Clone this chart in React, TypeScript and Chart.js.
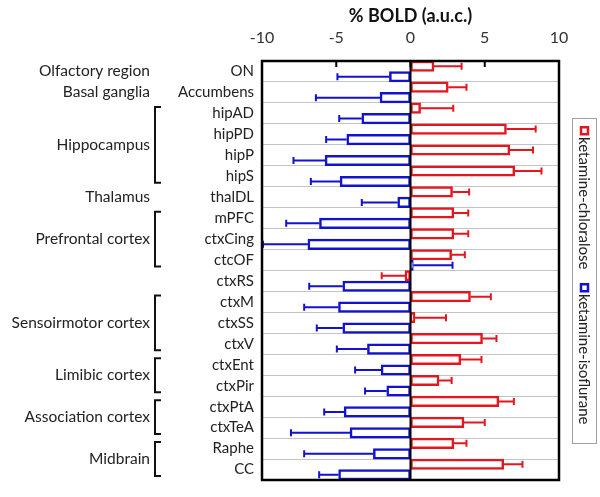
import React, { useEffect, useRef } from "react";
import { Chart, registerables } from "chart.js";

Chart.register(...registerables);

const categories = ["ON", "Accumbens", "hipAD", "hipPD", "hipP", "hipS", "thalDL", "mPFC", "ctxCing", "ctcOF", "ctxRS", "ctxM", "ctxSS", "ctxV", "ctxEnt", "ctxPir", "ctxPtA", "ctxTeA", "Raphe", "CC"];
const chloralose = [1.58, 2.54, 0.68, 6.46, 6.69, 7.02, 2.83, 2.92, 2.92, 2.77, -0.37, 4.04, 0.3, 4.85, 3.39, 1.92, 5.95, 3.6, 2.92, 6.28];
const chloraloseErr = [1.86, 1.23, 2.2, 1.97, 1.56, 1.8, 1.12, 0.97, 0.97, 0.89, 1.57, 1.37, 2.09, 0.94, 1.39, 0.85, 1.01, 1.4, 0.85, 1.26];
const isoflurane = [-1.42, -2.05, -3.28, -4.29, -5.75, -4.74, -0.86, -6.13, -6.91, 0.19, -4.56, -4.85, -4.56, -2.9, -1.98, -1.6, -4.47, -4.07, -2.5, -4.84];
const isofluraneErr = [3.5, 4.32, 1.52, 1.39, 2.13, 1.97, 2.42, 2.24, 3.02, 2.64, 2.26, 2.31, 1.75, 2.06, 1.75, 1.46, 1.34, 3.98, 4.66, 1.31];
const xTicks = [-10, -5, 0, 5, 10];

const groupNames = ["Olfactory region", "Basal ganglia", "Hippocampus", "Thalamus", "Prefrontal cortex", "Sensoirmotor cortex", "Limibic cortex", "Association cortex", "Midbrain"];
const groupStart = [0, 1, 2, 6, 7, 11, 14, 16, 18];
const groupEnd = [0, 1, 5, 6, 9, 13, 15, 17, 19];
const groupBracket = [false, false, true, false, true, true, true, true, true];

const seriesLabels = ["ketamine-chloralose", "ketamine-isoflurane"];
const RED = "#e3171f";
const BLUE = "#1212d0";
const FONT = "Lato";

const errorsList = [chloraloseErr, isofluraneErr];

const decorPlugin = {
  id: "decor",
  afterDatasetsDraw(chart: any) {
    const ctx = chart.ctx;
    const xs = chart.scales.x;
    const ca = chart.chartArea;
    ctx.save();
    chart.data.datasets.forEach((ds: any, d: number) => {
      const meta = chart.getDatasetMeta(d);
      meta.data.forEach((el: any, i: number) => {
        const v = ds.data[i];
        const e = errorsList[d][i];
        const end = v + (v < 0 ? -e : e);
        const x1 = xs.getPixelForValue(v);
        const x2 = xs.getPixelForValue(end);
        const y = el.y;
        ctx.strokeStyle = ds.borderColor;
        ctx.lineWidth = 2;
        ctx.beginPath();
        ctx.moveTo(x1, y);
        ctx.lineTo(x2, y);
        ctx.moveTo(x2, y - 3.5);
        ctx.lineTo(x2, y + 3.5);
        ctx.stroke();
      });
    });
    ctx.strokeStyle = "#000";
    ctx.lineWidth = 2;
    const x0 = xs.getPixelForValue(0);
    ctx.beginPath();
    ctx.moveTo(x0, ca.top);
    ctx.lineTo(x0, ca.bottom);
    ctx.stroke();
    ctx.lineWidth = 2.5;
    ctx.strokeRect(ca.left, ca.top, ca.right - ca.left, ca.bottom - ca.top);
    ctx.lineWidth = 2;
    xTicks.forEach((t) => {
      const x = xs.getPixelForValue(t);
      ctx.beginPath();
      ctx.moveTo(x, ca.top);
      ctx.lineTo(x, ca.top + 6);
      ctx.stroke();
    });
    ctx.restore();
  },
  afterDraw(chart: any) {
    const ctx = chart.ctx;
    const ys = chart.scales.y;
    const half = (ys.getPixelForValue(1) - ys.getPixelForValue(0)) / 2;
    ctx.save();
    ctx.fillStyle = "#222";
    ctx.font = `15.5px ${FONT}`;
    ctx.textAlign = "right";
    ctx.textBaseline = "middle";
    groupNames.forEach((name, g) => {
      const yTop = ys.getPixelForValue(groupStart[g]) - half;
      const yBot = ys.getPixelForValue(groupEnd[g]) + half;
      ctx.fillText(name, 150, (yTop + yBot) / 2);
      if (groupBracket[g]) {
        ctx.strokeStyle = "#111";
        ctx.lineWidth = 2;
        ctx.beginPath();
        ctx.moveTo(161, yTop + 4);
        ctx.lineTo(155, yTop + 4);
        ctx.lineTo(155, yBot - 4);
        ctx.lineTo(161, yBot - 4);
        ctx.stroke();
      }
    });
    ctx.strokeStyle = "#a0a0a0";
    ctx.lineWidth = 1;
    ctx.fillStyle = "#fff";
    ctx.fillRect(572.5, 118.5, 24, 325);
    ctx.strokeRect(572.5, 118.5, 24, 325);
    const colors = [RED, BLUE];
    const starts = [126, 283];
    ctx.translate(584, 0);
    ctx.rotate(Math.PI / 2);
    ctx.textAlign = "left";
    ctx.font = `15px ${FONT}`;
    seriesLabels.forEach((lab, k) => {
      const s = starts[k];
      ctx.strokeStyle = colors[k];
      ctx.lineWidth = 2.5;
      ctx.strokeRect(s + 1.25, -4, 7, 7);
      ctx.fillStyle = "#222";
      ctx.fillText(lab, s + 11, 0);
    });
    ctx.restore();
  },
};

export default function App() {
  const ref = useRef<HTMLCanvasElement | null>(null);
  useEffect(() => {
    if (!ref.current) return;
    const chart = new Chart(ref.current, {
      type: "bar",
      data: {
        labels: categories,
        datasets: [
          { label: seriesLabels[0], data: chloralose, borderColor: RED, backgroundColor: "#fff", borderWidth: 2.5, borderSkipped: false },
          { label: seriesLabels[1], data: isoflurane, borderColor: BLUE, backgroundColor: "#fff", borderWidth: 2.5, borderSkipped: false },
        ],
      },
      options: {
        indexAxis: "y",
        animation: false,
        responsive: false,
        maintainAspectRatio: false,
        datasets: { bar: { categoryPercentage: 1, barPercentage: 1 } },
        layout: { padding: { left: 0, right: 41, top: 0, bottom: 6 } },
        plugins: { legend: { display: false }, tooltip: { enabled: false } },
        scales: {
          x: {
            position: "top",
            min: -10,
            max: 10,
            afterBuildTicks: (s: any) => { s.ticks = xTicks.map((v) => ({ value: v })); },
            ticks: { color: "#333", font: { family: FONT, size: 16 }, padding: 14, maxRotation: 0 },
            grid: { display: false, drawTicks: false },
            border: { display: false },
            title: { display: true, text: "% BOLD (a.u.c.)", color: "#111", font: { family: FONT, size: 18, weight: "bold" }, padding: { top: 5, bottom: 0 } },
            afterFit: (s: any) => { s.height = 61; },
          },
          y: {
            ticks: { color: "#222", font: { family: FONT, size: 15 }, padding: 8, autoSkip: false },
            grid: { color: "#c4c4c4", lineWidth: 1, drawTicks: false, offset: true },
            border: { display: false },
            afterFit: (s: any) => { s.width = 262; },
          },
        },
      },
      plugins: [decorPlugin],
    } as any);
    return () => chart.destroy();
  }, []);
  return (
    <div style={{ position: "fixed", left: 0, top: 0, width: 600, height: 497, background: "#fff" }}>
      <canvas ref={ref} width={600} height={497} style={{ display: "block" }} />
    </div>
  );
}
